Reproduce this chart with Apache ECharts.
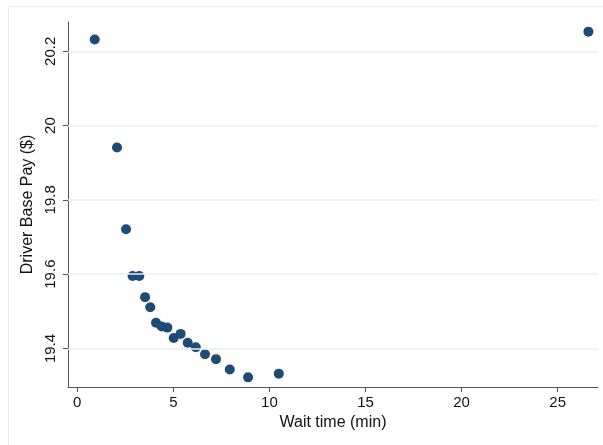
<!DOCTYPE html>
<html>
<head>
<meta charset="utf-8">
<script src="https://cdn.jsdelivr.net/npm/echarts@6/dist/echarts.min.js"></script>
<style>
  html, body { margin: 0; padding: 0; background: #fff; }
  #chart { width: 603px; height: 445px; }
</style>
</head>
<body>
<div id="chart"></div>
<script>
// wait time (min) vs driver base pay ($)
const waitTime = [0.91, 2.07, 2.54, 2.88, 3.23, 3.53, 3.80, 4.10, 4.40, 4.69, 5.02, 5.38, 5.75, 6.17, 6.65, 7.22, 7.94, 8.89, 10.49, 26.6]
const basePay = [20.232, 19.941, 19.721, 19.595, 19.595, 19.538, 19.511, 19.469, 19.459, 19.456, 19.428, 19.439, 19.415, 19.403, 19.384, 19.371, 19.343, 19.322, 19.332, 20.253]
const xTicks = [0, 5, 10, 15, 20, 25]
const yTicks = [19.4, 19.6, 19.8, 20, 20.2]

const fontFamily = 'Liberation Sans, Arial, sans-serif'
const tickFont = { color: '#111', fontSize: 15, fontFamily }
const titleFont = { color: '#111', fontSize: 16, fontFamily }

const chart = echarts.init(document.getElementById('chart'))

const option = {
  animation: false,
  backgroundColor: '#fff',
  graphic: [
    { type: 'line', shape: { x1: 8.5, y1: 6.5, x2: 603, y2: 6.5 }, style: { stroke: '#e6eef0', lineWidth: 1 } },
    { type: 'line', shape: { x1: 8.5, y1: 6.5, x2: 8.5, y2: 445 }, style: { stroke: '#e6eef0', lineWidth: 1 } }
  ],
  grid: { left: 68, right: 5, top: 22, bottom: 58 },
  xAxis: {
    type: 'value',
    min: -0.48,
    max: 27.1,
    name: 'Wait time (min)',
    nameLocation: 'middle',
    nameGap: 25,
    nameTextStyle: titleFont,
    axisLine: { show: true, onZero: false, lineStyle: { color: '#555', width: 1 } },
    axisTick: { show: true, length: 5, customValues: xTicks, lineStyle: { color: '#555' } },
    axisLabel: { ...tickFont, margin: 8, customValues: xTicks },
    splitLine: { show: false }
  },
  yAxis: {
    type: 'value',
    min: 19.296,
    max: 20.279,
    name: 'Driver Base Pay ($)',
    nameLocation: 'middle',
    nameGap: 25,
    nameRotate: 90,
    nameTextStyle: titleFont,
    axisLine: { show: true, onZero: false, lineStyle: { color: '#555', width: 1 } },
    axisTick: { show: true, length: 5, customValues: yTicks, lineStyle: { color: '#555' } },
    axisLabel: {
      ...tickFont,
      rotate: 90,
      margin: 10,
      customValues: yTicks,
      formatter: v => String(Math.round(v * 10) / 10)
    },
    splitLine: { show: false }
  },
  series: [{
    type: 'scatter',
    data: waitTime.map((x, i) => [x, basePay[i]]),
    symbolSize: 10,
    itemStyle: { color: '#1f4a75', opacity: 1 },
    markLine: {
      silent: true,
      symbol: 'none',
      label: { show: false },
      lineStyle: { color: '#e8f0f2', type: 'solid', width: 1.5 },
      data: yTicks.map(v => ({ yAxis: v }))
    },
    z: 3
  }]
}

chart.setOption(option)
</script>
</body>
</html>
